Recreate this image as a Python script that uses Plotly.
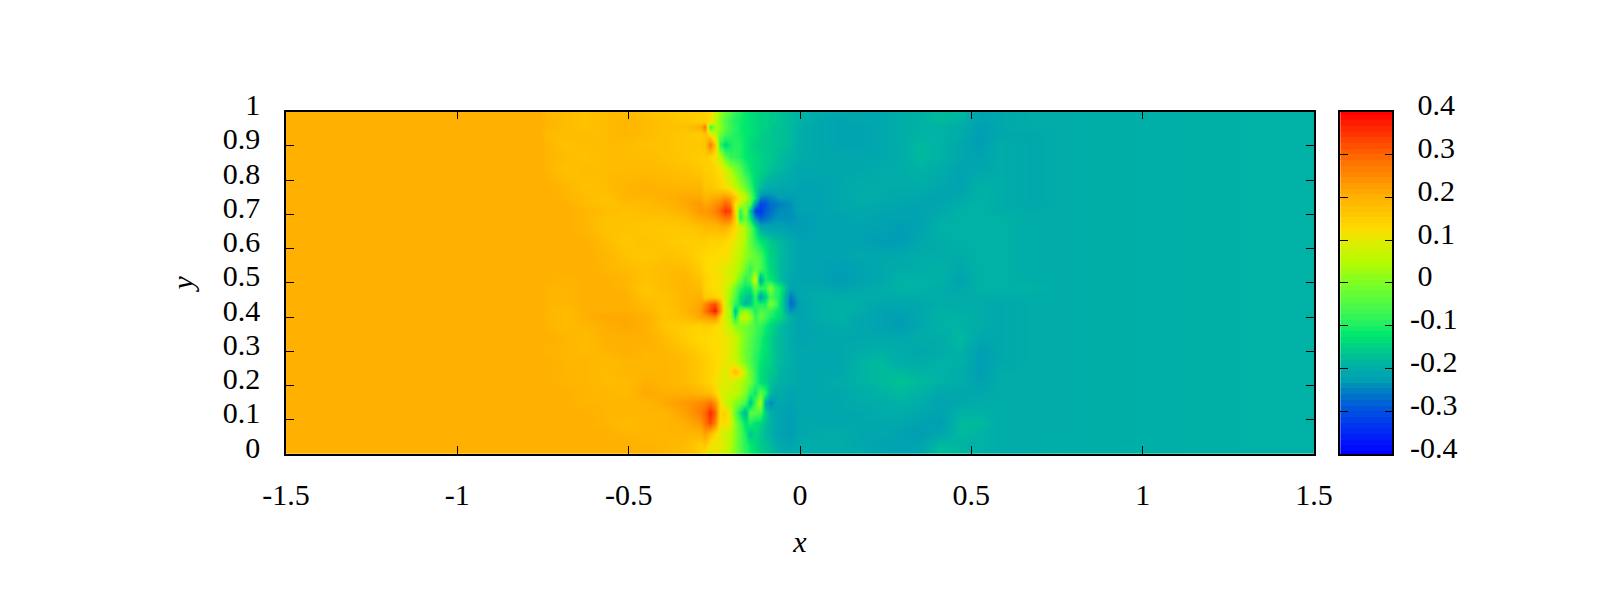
import plotly.graph_objects as go

# Column positions (x), in three blocks, and row positions (y, listed top to bottom)
x_left = [-1.5, -0.759, -0.735, -0.686, -0.627, -0.569, -0.511, -0.452, -0.394, -0.336, -0.292]
x_core = [-0.277, -0.263, -0.248, -0.233, -0.219, -0.204, -0.19, -0.175, -0.16, -0.146, -0.131, -0.117, -0.102,
          -0.088, -0.073, -0.058, -0.029]
x_right = [0.0, 0.058, 0.117, 0.175, 0.233, 0.292, 0.35, 0.408, 0.467, 0.525, 0.584, 0.671, 0.759, 1.5]
y_rows = [1.0, 0.97, 0.955, 0.935, 0.905, 0.87, 0.83, 0.78, 0.75, 0.73, 0.71, 0.69, 0.66, 0.62, 0.58, 0.54, 0.51,
          0.485, 0.46, 0.44, 0.42, 0.40, 0.375, 0.34, 0.30, 0.27, 0.24, 0.21, 0.18, 0.15, 0.12, 0.09, 0.06, 0.03, 0.0]

# Field values in hundredths, one block per column group
left_rows = [
 [20,20,18,18,17,18,18,17,16,15,15],[20,20,19,18,17,18,19,18,17,16,15],[20,20,19,18,17,18,19,18,17,17,20],
 [20,20,18,18,18,18,19,18,17,16,15],[20,20,19,17,18,18,18,17,17,16,16],[20,20,19,18,17,18,18,18,17,16,15],
 [20,20,19,17,18,18,18,18,18,17,16],[20,20,20,19,17,18,19,20,19,19,19],[20,20,20,19,18,17,19,19,20,21,21],
 [20,20,20,20,18,17,18,18,19,21,23],[20,20,20,20,19,18,17,18,18,20,23],[20,20,20,20,19,17,17,17,17,18,21],
 [20,20,20,20,19,17,17,16,16,16,17],[20,20,20,20,20,18,16,17,16,15,15],[20,20,20,20,20,19,17,16,17,16,14],
 [20,20,20,20,20,19,18,17,18,18,15],[20,20,20,19,20,20,19,17,18,19,17],[20,20,19,19,20,20,19,16,18,19,18],
 [20,20,19,19,20,20,20,17,17,19,20],[20,20,19,19,20,20,20,18,17,19,21],[20,20,19,18,20,20,20,19,16,19,22],
 [20,20,19,18,20,21,21,20,17,18,21],[20,20,19,18,19,20,21,20,16,15,14],[20,20,20,19,18,20,20,20,18,15,13],
 [20,20,19,19,18,19,20,19,19,17,15],[20,20,20,19,19,18,19,19,19,18,16],[20,20,20,19,19,18,19,19,19,18,16],
 [20,20,20,19,19,18,18,20,19,18,16],[20,20,20,20,19,19,18,21,20,20,19],[20,20,20,20,19,19,19,19,21,23,25],
 [20,20,20,20,20,19,19,19,19,22,26],[20,20,20,20,20,19,18,19,19,20,23],[20,20,20,20,20,20,19,19,19,19,19],
 [20,20,20,20,20,20,20,19,19,18,15],[20,20,20,20,20,20,20,20,19,18,15],
]
core_rows = [
 [14,13,8,2,-2,-5,-8,-10,-12,-13,-14,-15,-15,-16,-16,-17,-18],
 [15,13,6,0,-5,-8,-10,-11,-12,-13,-14,-15,-15,-16,-16,-17,-18],
 [28,-8,3,2,-4,-7,-9,-11,-12,-13,-14,-15,-15,-16,-17,-17,-18],
 [17,12,5,-2,-6,-8,-10,-11,-12,-13,-14,-15,-16,-16,-17,-17,-18],
 [17,27,17,-8,-14,-11,-9,-10,-12,-14,-15,-16,-16,-16,-17,-17,-18],
 [15,14,11,6,-3,-8,-8,-10,-12,-13,-14,-15,-16,-16,-17,-18,-19],
 [15,15,14,12,9,4,0,-4,-9,-12,-14,-15,-16,-17,-18,-18,-20],
 [16,16,15,14,12,10,6,2,-2,-8,-14,-17,-19,-20,-20,-21,-21],
 [19,20,21,22,24,22,17,10,6,-2,-12,-25,-26,-25,-24,-23,-23],
 [21,22,24,26,30,27,12,6,0,-4,-22,-31,-30,-27,-26,-25,-24],
 [23,24,26,30,35,33,14,-8,3,-16,-32,-33,-29,-27,-25,-24,-24],
 [21,22,23,25,28,27,16,-10,-2,-12,-24,-29,-27,-25,-24,-24,-24],
 [18,18,18,19,19,16,13,9,4,-3,-12,-20,-21,-22,-22,-22,-23],
 [15,14,14,14,13,12,10,7,3,-3,-8,-12,-14,-16,-17,-18,-20],
 [13,13,13,12,12,11,8,5,2,-1,-3,-6,-11,-15,-16,-18,-20],
 [13,12,12,11,10,8,6,3,-2,-8,-3,-5,-10,-14,-16,-18,-20],
 [14,13,12,12,10,8,4,-2,-9,-5,10,-22,-10,-12,-15,-18,-21],
 [14,13,12,11,9,4,-2,-9,-12,-12,-2,-8,-8,1,-8,-11,-22],
 [15,15,14,13,8,2,-5,-13,-16,-18,-8,-22,-16,-6,-8,-12,-26],
 [25,30,32,22,8,0,-8,-13,-20,-16,-9,-10,-10,0,-5,-13,-27],
 [28,33,38,24,8,4,-18,-2,2,-3,-10,-5,-6,-8,-11,-13,-24],
 [22,24,25,16,7,3,-12,5,7,3,-8,-3,-6,-10,-12,-14,-19],
 [15,14,13,12,9,6,1,0,-1,-3,-6,-8,-11,-14,-16,-18,-20],
 [13,13,12,12,11,10,7,3,-1,-4,-7,-10,-13,-15,-17,-18,-20],
 [14,13,13,12,11,9,6,2,-2,-5,-8,-11,-13,-15,-17,-18,-20],
 [15,14,13,12,11,10,7,3,-1,-5,-9,-12,-14,-15,-17,-18,-20],
 [15,14,13,11,9,13,18,13,5,-2,-8,-13,-15,-16,-17,-19,-20],
 [15,14,12,10,10,9,7,5,2,-1,-8,-13,-15,-17,-18,-19,-20],
 [18,17,14,10,8,7,6,4,0,-8,-12,-4,-8,-18,-20,-20,-22],
 [26,28,24,13,8,4,1,-2,-6,-17,-6,5,-20,-25,-22,-21,-22],
 [30,36,30,13,15,8,-3,-12,-20,-4,-4,-6,-15,-19,-21,-22,-23],
 [28,33,26,12,13,10,0,-6,-13,-10,-13,-14,-17,-19,-21,-22,-23],
 [22,18,14,9,8,5,1,-5,-10,-17,-14,-16,-18,-19,-21,-22,-23],
 [17,12,10,11,8,5,0,-5,-9,-12,-14,-16,-17,-18,-20,-21,-22],
 [12,8,13,10,7,4,0,-4,-8,-11,-13,-15,-16,-17,-18,-19,-20],
]
right_rows = [
 [-19,-20,-21,-21,-21,-20,-19,-18,-18,-22,-21,-20,-20,-19],[-19,-21,-22,-21,-21,-20,-19,-18,-19,-22,-21,-20,-20,-19],
 [-20,-21,-22,-22,-21,-20,-19,-19,-20,-23,-21,-20,-20,-19],[-20,-21,-22,-22,-21,-20,-19,-19,-20,-23,-21,-21,-20,-19],
 [-20,-21,-22,-22,-21,-20,-18,-19,-21,-23,-20,-21,-20,-19],[-20,-21,-21,-21,-21,-20,-18,-19,-21,-22,-20,-21,-20,-19],
 [-21,-21,-21,-21,-20,-20,-19,-20,-22,-21,-20,-21,-20,-19],[-22,-22,-21,-20,-20,-20,-20,-21,-22,-19,-20,-21,-20,-19],
 [-22,-22,-21,-20,-20,-21,-21,-22,-21,-19,-20,-21,-20,-19],[-22,-22,-21,-20,-21,-21,-22,-21,-20,-19,-20,-21,-20,-19],
 [-22,-22,-21,-21,-21,-22,-22,-21,-19,-19,-20,-20,-20,-19],[-23,-22,-22,-21,-22,-22,-22,-20,-19,-19,-19,-20,-20,-19],
 [-23,-22,-22,-22,-22,-23,-22,-19,-19,-19,-19,-20,-20,-19],[-22,-22,-22,-22,-23,-23,-21,-20,-19,-19,-19,-20,-20,-19],
 [-22,-22,-22,-21,-21,-21,-20,-20,-20,-19,-19,-20,-20,-19],[-22,-22,-23,-22,-21,-20,-20,-19,-21,-19,-19,-20,-20,-19],
 [-22,-22,-23,-22,-21,-19,-19,-19,-22,-19,-19,-20,-20,-19],[-21,-21,-22,-21,-20,-19,-19,-20,-21,-19,-19,-19,-20,-19],
 [-21,-20,-20,-20,-20,-20,-20,-20,-20,-20,-20,-20,-20,-19],[-22,-20,-19,-20,-21,-21,-21,-20,-20,-20,-21,-20,-20,-19],
 [-22,-20,-19,-20,-22,-22,-21,-19,-20,-20,-21,-20,-20,-19],[-22,-20,-19,-21,-22,-23,-21,-19,-19,-20,-21,-20,-20,-19],
 [-22,-21,-20,-21,-22,-23,-21,-19,-19,-20,-21,-20,-20,-19],[-22,-21,-21,-21,-21,-21,-20,-20,-18,-21,-21,-20,-20,-19],
 [-21,-21,-21,-20,-19,-20,-21,-20,-19,-23,-21,-20,-20,-19],[-21,-21,-21,-19,-18,-20,-20,-19,-19,-23,-21,-20,-20,-19],
 [-21,-21,-21,-19,-18,-18,-19,-19,-20,-23,-20,-20,-20,-19],[-21,-21,-20,-19,-18,-17,-18,-19,-20,-22,-20,-20,-20,-19],
 [-21,-21,-21,-20,-19,-18,-19,-21,-21,-21,-20,-20,-20,-19],[-21,-21,-21,-20,-20,-19,-20,-22,-21,-20,-20,-20,-20,-19],
 [-21,-21,-21,-21,-20,-20,-21,-22,-19,-19,-20,-20,-20,-19],[-21,-21,-21,-21,-21,-21,-22,-23,-18,-18,-20,-20,-20,-19],
 [-21,-20,-20,-21,-21,-22,-23,-21,-18,-19,-20,-20,-20,-19],[-20,-20,-20,-21,-22,-22,-22,-18,-19,-19,-20,-20,-20,-19],
 [-20,-20,-20,-20,-21,-22,-21,-17,-18,-19,-20,-20,-19,-19],
]

x_ticks = [-1.5, -1, -0.5, 0, 0.5, 1, 1.5]
x_tick_text = ["-1.5", "-1", "-0.5", "0", "0.5", "1", "1.5"]
y_ticks = [0, 0.1, 0.2, 0.3, 0.4, 0.5, 0.6, 0.7, 0.8, 0.9, 1]
y_tick_text = ["0", "0.1", "0.2", "0.3", "0.4", "0.5", "0.6", "0.7", "0.8", "0.9", "1"]
bar_ticks = [-0.4, -0.3, -0.2, -0.1, 0, 0.1, 0.2, 0.3, 0.4]
bar_tick_text = ["-0.4", "-0.3", "-0.2", "-0.1", "\u00a00", "\u00a00.1", "\u00a00.2", "\u00a00.3", "\u00a00.4"]
bar_levels = [round(-0.4 + i * 0.8 / 60, 4) for i in range(61)]

palette_values = [-0.4, -0.35, -0.3, -0.25, -0.23, -0.19, -0.15, -0.12, -0.1, -0.05, 0, 0.05, 0.1, 0.125, 0.2, 0.3, 0.4]
palette_colors = ["rgb(0,0,255)", "rgb(0,40,245)", "rgb(0,80,225)", "rgb(0,130,192)", "rgb(0,158,180)", "rgb(0,178,165)",
                  "rgb(0,210,130)", "rgb(0,232,110)", "rgb(30,240,100)", "rgb(80,250,70)", "rgb(125,255,35)",
                  "rgb(185,250,0)", "rgb(225,235,0)", "rgb(255,220,0)", "rgb(255,176,0)", "rgb(255,100,0)", "rgb(255,0,0)"]
scale = [[(v + 0.4) / 0.8, c] for v, c in zip(palette_values, palette_colors)]

W, H = 1600, 600
L, R, T, B = 286, 1314, 111.7, 454
BL, BR = 1340.3, 1392.3
FONT = "Liberation Serif"
FS = 30

x_cols = x_left + x_core + x_right
rows_top_down = [a + b + c for a, b, c in zip(left_rows, core_rows, right_rows)]
z = [[v / 100 for v in row] for row in rows_top_down[::-1]]

fig = go.Figure()
fig.add_trace(go.Heatmap(x=x_cols, y=y_rows[::-1], z=z, zmin=-0.4, zmax=0.4, colorscale=scale, zsmooth="best",
                         showscale=False, xaxis="x", yaxis="y"))
fig.add_trace(go.Heatmap(x=[0, 1], y=bar_levels, z=[[v, v] for v in bar_levels], zmin=-0.4, zmax=0.4, colorscale=scale,
                         showscale=False, xaxis="x2", yaxis="y2", zsmooth=False))

axis_common = dict(showline=True, linecolor="black", linewidth=1.5, mirror="ticks", ticks="inside", ticklen=8,
                   tickwidth=1, tickcolor="black", showgrid=False, zeroline=False, automargin=False,
                   tickfont=dict(family=FONT, size=FS, color="black"))

fig.update_layout(
    width=W, height=H, margin=dict(l=0, r=0, t=0, b=0), paper_bgcolor="white", plot_bgcolor="white",
    showlegend=False,
    xaxis=dict(domain=[L / W, R / W], range=[-1.5, 1.5], tickvals=x_ticks, ticktext=x_tick_text, anchor="y",
               ticklabelstandoff=13, title=dict(text="<i>x</i>", font=dict(family=FONT, size=FS, color="black"), standoff=21),
               **axis_common),
    yaxis=dict(domain=[1 - B / H, 1 - T / H], range=[0, 1], tickvals=y_ticks, ticktext=y_tick_text, anchor="x",
               ticklabelstandoff=18, ticklabelshift=-7,
               title=dict(text="<i>y</i>", font=dict(family=FONT, size=FS, color="black"), standoff=20),
               **axis_common),
    xaxis2=dict(domain=[BL / W, BR / W], range=[0, 1], showticklabels=False, ticks="", showline=True, linecolor="black",
                linewidth=1.5, mirror=True, showgrid=False, zeroline=False, anchor="y2", automargin=False),
    yaxis2=dict(domain=[1 - B / H, 1 - T / H], range=[-0.4, 0.4], tickvals=bar_ticks, ticktext=bar_tick_text, side="right",
                anchor="x2", ticklabelstandoff=10, ticklabelshift=-7, **axis_common),
)

fig.write_html("out.html", config={"displayModeBar": False}, post_script="document.body.style.margin='0';")
